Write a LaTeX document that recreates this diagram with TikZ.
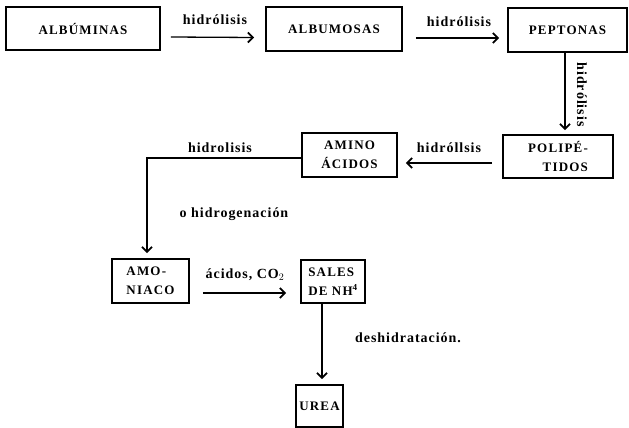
\documentclass[tikz,border=0pt]{standalone}
\usepackage{fontspec}
\setmainfont{Liberation Serif}
\newfontfamily\boxfont[LetterSpace=9]{Liberation Serif}
\newfontfamily\labfont[LetterSpace=7]{Liberation Serif}
\usetikzlibrary{arrows.meta,calc}
\begin{document}
\begin{tikzpicture}[x=1pt,y=-1pt,
  box/.style={draw,line width=1.7pt,inner sep=0pt,
    font=\boxfont\bfseries\fontsize{13}{19}\selectfont},
  arr/.style={line width=1.3pt,-{Straight Barb[length=5pt,width=10pt,line width=1.8pt]}},
  lab/.style={font=\labfont\bfseries\fontsize{14}{16}\selectfont,inner sep=0pt}]
\useasboundingbox (0,0) rectangle (629,428);
% boxes
\node[box,minimum width=154pt,minimum height=43pt] (alb) at (83,28.5) {ALBÚMINAS};
\node[box,minimum width=136pt,minimum height=44pt] (albm) at (334,29) {ALBUMOSAS};
\node[box,minimum width=119pt,minimum height=44pt] (pep) at (567.5,30) {PEPTONAS};
\node[box,minimum width=110pt,minimum height=43pt,align=right] (pol) at (558,156.5) {POLIPÉ-\\TIDOS};
\node[box,minimum width=95pt,minimum height=44pt,align=center] (amino) at (349.5,155) {AMINO\\ÁCIDOS};
\node[box,minimum width=77pt,minimum height=44pt,align=left] (amon) at (150.5,281) {AMO-\\NIACO};
\node[box,minimum width=64pt,minimum height=43pt,align=left] (sales) at (333,281.5) {SALES\\DE NH\textsuperscript{4}};
\node[box,minimum width=47pt,minimum height=42pt] (urea) at (319.5,406) {UREA};
% connectors
\draw[arr] ($(alb.east)+(10,8.5)$) -- ($(albm.west)+(-11,8.5)$);
\draw[arr] ($(albm.east)+(13,9)$) -- ($(pep.west)+(-8,8)$);
\draw[arr,line width=1.7pt] ($(pep.south)+(-2.5,0)$) -- ($(pol.north)+(7,-4)$);
\draw[arr] ($(pol.west)+(-10,6.5)$) -- ($(amino.east)+(8,8)$);
\draw[arr] ($(amino.west)+(0,3)$) -| ($(amon.north)+(-3.5,-5)$);
\draw[arr] ($(amon.east)+(13,12)$) -- ($(sales.west)+(-14,11.5)$);
\draw[arr] ($(sales.south)+(-11,0)$) -- ($(urea.north)+(2.5,-5)$);
% labels
\node[lab] (l1) at (215,20) {hidrólisis};
\node[lab] (l2) at (459,22) {hidrólisis};
\node[lab,rotate=-90] (l3) at (582,94.5) {hidrólisis};
\node[lab] (l4) at (449,148) {hidróllsis};
\node[lab] (l5) at (220,148) {hidrolisis};
\node[lab] (l6) at (234,214) {o hidrogenación};
\node[lab] (l7) at (245,275) {ácidos, CO$_2$};
\node[lab] (l8) at (408,338) {deshidratación.};
\end{tikzpicture}
\end{document}
